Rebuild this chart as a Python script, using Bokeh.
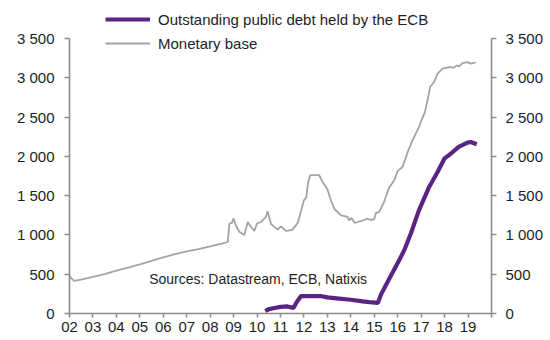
from bokeh.plotting import figure
from bokeh.models import Range1d, LinearAxis, FixedTicker, Legend, LegendItem, Label
from bokeh.embed import file_html
from bokeh.resources import INLINE

# ---- data ----
base_years = [2002.0, 2002.1, 2002.2, 2002.5, 2003.0, 2003.5, 2004.0, 2004.5, 2005.0, 2005.5,
              2006.0, 2006.5, 2007.0, 2007.5, 2008.0, 2008.5, 2008.75, 2008.82, 2008.92, 2009.0,
              2009.1, 2009.24, 2009.46, 2009.6, 2009.75, 2009.88, 2010.0, 2010.17, 2010.38, 2010.45,
              2010.6, 2010.88, 2011.02, 2011.23, 2011.5, 2011.73, 2011.87, 2012.0, 2012.1, 2012.18,
              2012.27, 2012.65, 2012.8, 2013.0, 2013.15, 2013.3, 2013.58, 2013.86, 2013.93, 2014.03,
              2014.17, 2014.57, 2014.71, 2014.85, 2015.0, 2015.07, 2015.21, 2015.42, 2015.63, 2015.85,
              2016.0, 2016.2, 2016.42, 2016.63, 2016.91, 2017.01, 2017.16, 2017.27, 2017.38, 2017.55,
              2017.7, 2017.91, 2018.19, 2018.4, 2018.52, 2018.62, 2018.76, 2018.98, 2019.12, 2019.33]
base_values = [480, 440, 415, 430, 465, 500, 545, 585, 625, 670,
               715, 755, 790, 820, 855, 890, 910, 1145, 1150, 1210,
               1120, 1040, 1000, 1165, 1100, 1050, 1145, 1165, 1230, 1300,
               1136, 1068, 1110, 1051, 1065, 1150, 1300, 1440, 1480, 1674,
               1760, 1760, 1674, 1580, 1441, 1330, 1250, 1229, 1187, 1216,
               1152, 1190, 1208, 1190, 1200, 1280, 1293, 1420, 1600, 1696,
               1815, 1865, 2050, 2204, 2374, 2459, 2564, 2713, 2882, 2946,
               3053, 3117, 3137, 3129, 3158, 3146, 3188, 3200, 3180, 3195]

ecb_years = [2010.35, 2010.5, 2010.75, 2011.0, 2011.3, 2011.55, 2011.7, 2011.87, 2012.0, 2012.5,
             2012.75, 2013.0, 2013.5, 2014.0, 2014.5, 2014.8, 2015.15, 2015.3, 2015.6, 2015.85,
             2016.1, 2016.3, 2016.56, 2016.9, 2017.34, 2017.7, 2018.0, 2018.25, 2018.6, 2018.98,
             2019.12, 2019.37]
ecb_values = [30, 55, 70, 85, 90, 70, 150, 220, 222, 222,
              220, 205, 190, 175, 155, 145, 135, 250, 420, 560,
              700, 820, 1018, 1310, 1611, 1801, 1975, 2030, 2120, 2175,
              2183, 2154]

x_ticks = list(range(2002, 2021))
x_tick_labels = ["02", "03", "04", "05", "06", "07", "08", "09", "10", "11",
                 "12", "13", "14", "15", "16", "17", "18", "19", ""]
y_ticks = [0, 500, 1000, 1500, 2000, 2500, 3000, 3500]
y_tick_labels = ["0", "500", "1 000", "1 500", "2 000", "2 500", "3 000", "3 500"]

series_names = ["Outstanding public debt held by the ECB", "Monetary base"]
source_text = "Sources: Datastream, ECB, Natixis"

# ---- styles ----
FONT = "Liberation Sans"
PURPLE = "#5b2482"
GREY = "#a3a3a3"
AXIS = "#8c8c8c"
TXT = "#1e1e1e"

# frame spans 2..313 px; axis runs 0..3500 over 275 px (headroom above for the legend)
Y_TOP = 3500 * 311 / 275

p = figure(width=550, height=340, output_backend="svg", toolbar_location=None,
           x_range=Range1d(2002, 2020), y_range=Range1d(0, Y_TOP),
           min_border_left=69, min_border_right=59, min_border_top=2, min_border_bottom=27)
p.outline_line_color = None
p.xgrid.grid_line_color = None
p.ygrid.grid_line_color = None
p.background_fill_color = "white"
p.border_fill_color = "white"

r_base = p.line(base_years, base_values, line_color=GREY, line_width=1.8)
r_ecb = p.line(ecb_years, ecb_values, line_color=PURPLE, line_width=4.2)

right_axis = LinearAxis()
p.add_layout(right_axis, "right")

def style_y(ax, standoff):
    ax.ticker = FixedTicker(ticks=y_ticks)
    ax.bounds = (0, 3500)
    ax.major_label_overrides = {t: l for t, l in zip(y_ticks, y_tick_labels)}
    ax.axis_line_color = AXIS
    ax.axis_line_width = 1.6
    ax.major_tick_line_color = AXIS
    ax.major_tick_line_width = 1.6
    ax.major_tick_out = 5
    ax.major_tick_in = 0
    ax.minor_tick_line_color = None
    ax.major_label_text_font = FONT
    ax.major_label_text_font_size = "15px"
    ax.major_label_text_color = TXT
    ax.major_label_standoff = standoff

style_y(p.yaxis[0], 10)
style_y(right_axis, 9)

xa = p.xaxis[0]
xa.ticker = FixedTicker(ticks=x_ticks)
xa.major_label_overrides = {t: l for t, l in zip(x_ticks, x_tick_labels)}
xa.axis_line_color = AXIS
xa.axis_line_width = 1.6
xa.major_tick_line_color = AXIS
xa.major_tick_line_width = 1.6
xa.major_tick_out = 4
xa.major_tick_in = 0
xa.minor_tick_line_color = None
xa.major_label_text_font = FONT
xa.major_label_text_font_size = "15px"
xa.major_label_text_color = TXT
xa.major_label_standoff = 4

legend = Legend(items=[LegendItem(label=series_names[0], renderers=[r_ecb]),
                       LegendItem(label=series_names[1], renderers=[r_base])],
                location=(36, 260), orientation="vertical",
                glyph_width=45, glyph_height=20, label_height=20, spacing=4,
                padding=0, margin=0, label_standoff=8,
                label_text_font=FONT, label_text_font_size="15px", label_text_color=TXT,
                background_fill_alpha=0, border_line_color=None)
p.add_layout(legend)

src = Label(x=2005.4, y=440, text=source_text, text_font=FONT, text_font_size="14px",
            text_color=TXT, text_baseline="middle", text_align="left")
p.add_layout(src)

open("out.html", "w").write(file_html(p, INLINE))
